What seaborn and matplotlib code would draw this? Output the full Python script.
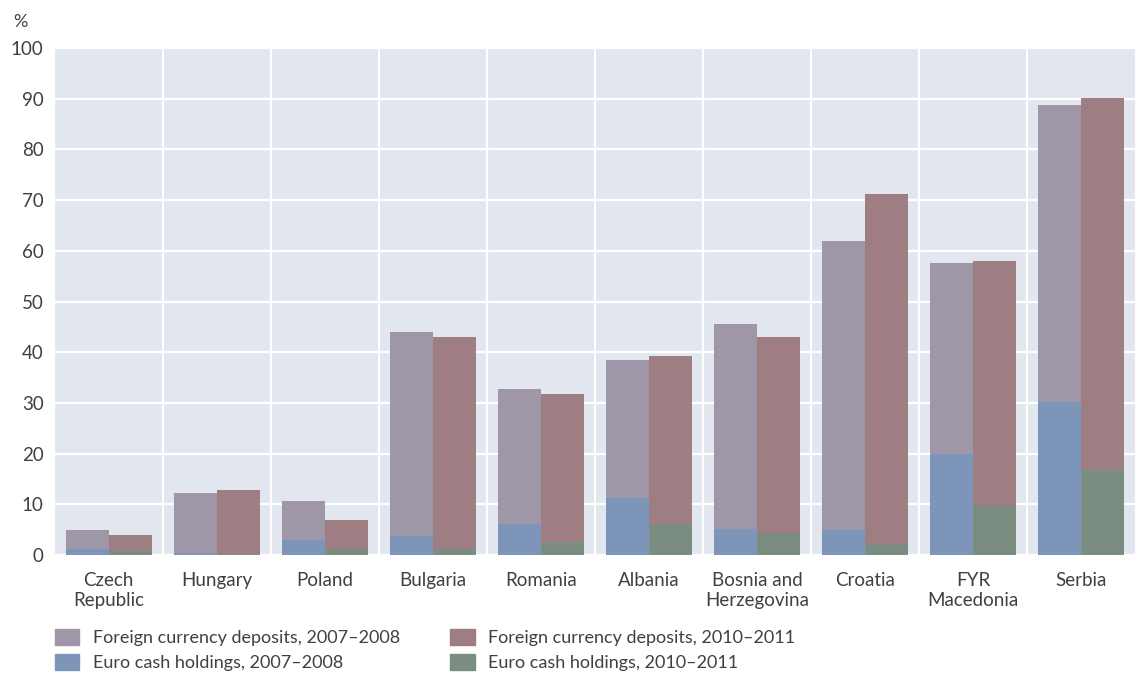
import numpy as np
import pandas as pd
import matplotlib
matplotlib.use("Agg")
import matplotlib.pyplot as plt
import seaborn as sns
from matplotlib.patches import Patch

countries = ["Czech\nRepublic", "Hungary", "Poland", "Bulgaria", "Romania", "Albania",
             "Bosnia and\nHerzegovina", "Croatia", "FYR\nMacedonia", "Serbia"]
fcd_2007 = [4.9, 12.2, 10.6, 44.0, 32.7, 38.5, 45.6, 61.9, 57.7, 88.7]
fcd_2010 = [3.9, 12.8, 7.0, 43.0, 31.7, 39.3, 43.0, 71.2, 58.0, 90.1]
euro_2007 = [1.2, 0.4, 3.0, 3.8, 6.2, 11.3, 5.1, 5.0, 20.0, 30.2]
euro_2010 = [0.8, 0.3, 1.2, 1.3, 2.5, 6.2, 4.4, 2.1, 9.6, 16.8]
periods = ["2007–2008", "2010–2011"]
yticks = list(range(0, 101, 10))

c_fcd07, c_fcd10 = "#9f96a8", "#9e7e82"
c_eur07, c_eur10 = "#7d95b8", "#7a8d80"
txt = "#404040"

fcd = pd.DataFrame({
    "country": countries * 2,
    "period": [periods[0]] * len(countries) + [periods[1]] * len(countries),
    "value": fcd_2007 + fcd_2010,
})
eur = pd.DataFrame({
    "country": countries * 2,
    "period": [periods[0]] * len(countries) + [periods[1]] * len(countries),
    "value": euro_2007 + euro_2010,
})

sns.set_theme(style="darkgrid")
plt.rcParams["font.family"] = ["Lato", "DejaVu Sans"]

fig = plt.figure(figsize=(11.41, 6.77), dpi=100)
ax = fig.add_axes([0.048, 0.18, 0.947, 0.749])
ax.set_facecolor("#e2e7ef")

sns.barplot(data=fcd, x="country", y="value", hue="period", order=countries,
            hue_order=periods, palette=[c_fcd07, c_fcd10], width=0.8,
            saturation=1, linewidth=0, ax=ax, legend=False, errorbar=None)
sns.barplot(data=eur, x="country", y="value", hue="period", order=countries,
            hue_order=periods, palette=[c_eur07, c_eur10], width=0.8,
            saturation=1, linewidth=0, ax=ax, legend=False, errorbar=None)

ax.set_ylim(0, 100)
ax.set_xlim(-0.5, len(countries) - 0.5)
ax.set_yticks(yticks)
ax.set_yticklabels([str(t) for t in yticks], fontsize=13.5, color=txt)
ax.set_xticks(range(len(countries)))
ax.set_xticklabels(countries, fontsize=13.5, color=txt, linespacing=1.25)
ax.set_xticks(np.arange(0.5, len(countries) - 0.5, 1), minor=True)
ax.grid(False)
ax.grid(axis="y", which="major", color="white", linewidth=1.6)
ax.grid(axis="x", which="minor", color="white", linewidth=1.6)
ax.tick_params(axis="both", which="both", length=0)
ax.tick_params(axis="y", pad=8)
ax.tick_params(axis="x", pad=12)
ax.set_xlabel("")
ax.set_ylabel("")
for s in ax.spines.values():
    s.set_visible(False)
ax.set_axisbelow(True)

fig.text(0.012, 0.968, "%", fontsize=13, color=txt, ha="left", va="center")

handles = [Patch(color=c_fcd07, label="Foreign currency deposits, 2007–2008"),
           Patch(color=c_eur07, label="Euro cash holdings, 2007–2008"),
           Patch(color=c_fcd10, label="Foreign currency deposits, 2010–2011"),
           Patch(color=c_eur10, label="Euro cash holdings, 2010–2011")]
leg = fig.legend(handles=handles, ncol=2, loc="upper left", bbox_to_anchor=(0.048, 0.071),
                 frameon=False, fontsize=13, handlelength=1.35, handleheight=0.95,
                 columnspacing=2.8, labelspacing=0.45, handletextpad=0.75,
                 borderaxespad=0, borderpad=0)
for t in leg.get_texts():
    t.set_color(txt)

fig.savefig("out.png", dpi=100, facecolor="white")
